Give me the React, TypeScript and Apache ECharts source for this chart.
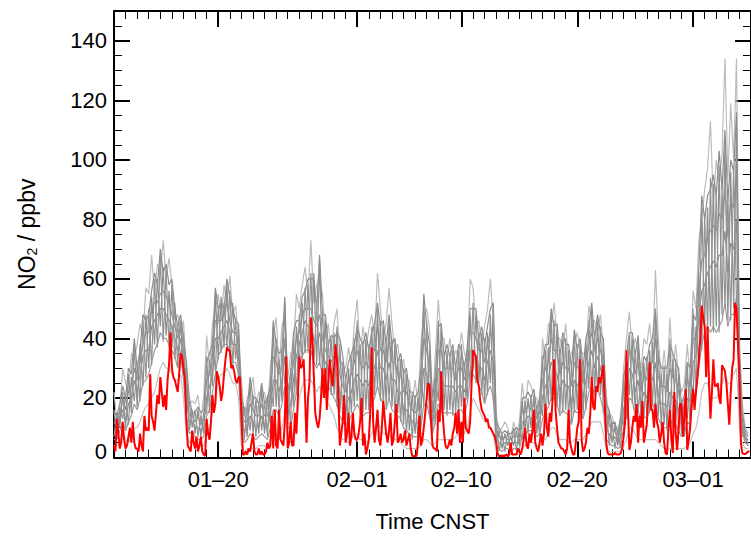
import { useEffect, useRef } from "react";
import * as echarts from "echarts";

// Time axis: days since 2020-01-11 00:00 CNST
const X_MIN_DAY = 0;
const X_MAX_DAY = 55;
const majorTickDays = [9, 21, 30, 40, 50];
const majorTickLabels = ["01–20", "02–01", "02–10", "02–20", "03–01"];
const minorTickDays = Array.from({ length: 54 }, (_, i) => i + 1).filter((d) => !majorTickDays.includes(d));
const yMajorTicks = [0, 20, 40, 60, 80, 100, 120, 140];
const yMinorTicks = [5, 10, 15, 25, 30, 35, 45, 50, 55, 65, 70, 75, 85, 90, 95, 105, 110, 115, 125, 130, 135, 145];

// Observed (red), 3-hourly
const RED_STEP_H = 3;
const red = [
  4, 2, 13, 8, 3, 5, 12, 6,
  3, 4, 7, 10, 5, 12, 5, 3,
  3, 2, 8, 4, 2, 14, 9, 10,
  9, 28, 14, 12, 9, 15, 21, 18,
  27, 22, 17, 21, 16, 26, 31, 42,
  30, 27, 26, 24, 22, 28, 35, 34,
  30, 26, 12, 4, 3, 2, 9, 5,
  3, 7, 2, 4, 7, 2, 1, 0.5,
  13, 8, 6, 12, 21, 15, 18, 29,
  27, 24, 19, 22, 28, 33, 37, 36,
  36, 30, 31, 29, 26, 25, 27, 27,
  15, 1, 1, 2, 1, 3, 2, 5,
  8, 2, 1, 1, 3, 1, 2, 1,
  1, 2, 5, 3, 4, 14, 3, 16,
  4, 3, 16, 6, 5, 4, 12, 34,
  3, 5, 12, 4, 4, 15, 8, 20,
  34, 30, 31, 33, 20, 5, 20, 25,
  47, 40, 28, 15, 12, 10, 13, 20,
  30, 20, 30, 16, 25, 33, 28, 24,
  30, 38, 33, 20, 4, 8, 12, 21,
  5, 8, 15, 4, 7, 15, 8, 6,
  6, 8, 12, 20, 4, 8, 1, 3,
  6, 15, 37, 12, 5, 10, 16, 6,
  4, 10, 19, 13, 8, 5, 9, 15,
  4, 6, 12, 18, 5, 6, 8, 5,
  6, 9, 4, 6, 8, 3, 0.5, 0.5,
  0.5, 0.5, 5, 14, 4, 6, 10, 15,
  20, 25, 24, 12, 4, 3, 3, 2,
  16, 12, 29, 15, 8, 4, 3, 4,
  6, 4, 8, 10, 15, 8, 16, 5,
  12, 5, 20, 10, 9, 8, 12, 25,
  36, 35, 34, 26, 24, 19, 16, 15,
  14, 12, 13, 10, 10, 9, 8, 7,
  5, 1, 0.5, 0.5, 0.5, 0.5, 0.5, 1,
  0.5, 1, 5, 1, 1, 1, 1, 3,
  2, 1, 3, 6, 10, 4, 3, 8,
  5, 9, 16, 5, 3, 2, 5, 8,
  4, 8, 18, 10, 7, 15, 12, 20,
  33, 16, 10, 5, 4, 3, 3, 2,
  1, 3, 16, 5, 3, 1, 1, 5,
  10, 12, 33, 6, 2, 3, 5, 10,
  8, 15, 27, 17, 16, 24, 22, 27,
  25, 28, 31, 18, 5, 1.5, 1, 1,
  1, 1, 1.5, 1, 1, 1, 1.5, 3,
  7, 12, 36, 16, 2.5, 5, 10, 14,
  12, 18, 5, 14, 10, 19, 5, 8,
  11, 20, 32, 16, 16, 10, 18, 12,
  10, 5, 8, 12, 5, 1.5, 1, 10,
  16, 6, 1.5, 22, 8, 2.5, 10, 18,
  18, 7, 14, 23, 2.5, 6, 10, 18,
  23, 16, 22, 27, 33, 40, 51, 47,
  44, 27, 44, 25, 13, 22, 33, 24,
  24, 25, 20, 18, 31, 30, 29, 25,
  18, 11, 22, 30, 33, 52, 50, 38,
  27, 5, 1.5, 1.2, 1.2, 1.5, 2, 2,
];

// Model ensemble members (grey), 6-hourly
const GRAY_STEP_H = 6;
const memberA = [
  22, 12, 16, 30, 25, 22, 35, 33, 38, 45, 40, 57, 55, 68, 55, 65, 62, 73, 60, 67,
  58, 46, 48, 42, 46, 28, 18, 19, 18, 21, 12, 21, 41, 30, 45, 50, 55, 46, 58, 52,
  61, 48, 51, 40, 26, 14, 20, 22, 27, 18, 22, 20, 22, 16, 30, 40, 47, 30, 44, 48,
  26, 35, 36, 55, 50, 58, 64, 54, 73, 52, 58, 60, 55, 40, 45, 36, 45, 50, 34, 30,
  30, 37, 30, 45, 53, 34, 44, 36, 43, 48, 40, 62, 50, 40, 45, 57, 45, 36, 38, 30,
  33, 26, 26, 18, 26, 18, 38, 48, 50, 43, 18, 35, 53, 40, 40, 32, 40, 32, 36, 34,
  42, 35, 32, 60, 57, 44, 46, 38, 44, 50, 60, 45, 15, 8, 10, 12, 10, 6, 12, 8,
  12, 25, 16, 26, 24, 20, 20, 16, 40, 32, 45, 44, 52, 40, 40, 36, 45, 32, 35, 38,
  42, 36, 35, 34, 51, 46, 46, 42, 48, 36, 21, 14, 14, 10, 10, 12, 30, 40, 49, 36,
  40, 35, 30, 40, 38, 45, 34, 63, 40, 26, 36, 26, 47, 30, 38, 26, 22, 25, 38, 26,
  56, 50, 73, 80, 90, 97, 113, 85, 100, 92, 102, 134, 94, 119, 100, 134, 40, 18, 10, 8,
];
const memberB = [
  15, 14, 18, 24, 20, 30, 28, 40, 30, 36, 48, 46, 48, 56, 62, 58, 70, 62, 65, 58,
  60, 50, 44, 48, 40, 32, 20, 15, 15, 17, 15, 16, 32, 35, 38, 57, 50, 52, 50, 60,
  54, 50, 46, 45, 20, 16, 16, 27, 20, 20, 18, 25, 18, 20, 24, 46, 38, 35, 36, 54,
  22, 28, 42, 46, 46, 54, 56, 60, 60, 60, 50, 68, 48, 48, 38, 41, 40, 42, 40, 34,
  26, 32, 35, 38, 44, 40, 38, 42, 36, 42, 45, 52, 44, 46, 38, 48, 38, 40, 32, 35,
  28, 30, 22, 22, 20, 22, 30, 55, 44, 38, 20, 28, 44, 45, 34, 38, 34, 38, 30, 38,
  36, 30, 37, 50, 50, 50, 40, 44, 38, 44, 50, 52, 12, 10, 8, 9, 8, 8, 9, 10,
  9, 20, 20, 22, 20, 23, 16, 20, 32, 38, 38, 50, 44, 45, 34, 42, 38, 38, 30, 43,
  36, 40, 30, 40, 44, 52, 40, 48, 42, 40, 18, 16, 11, 12, 8, 14, 26, 34, 42, 42,
  34, 41, 26, 34, 32, 38, 40, 50, 34, 30, 30, 30, 38, 35, 32, 30, 18, 21, 32, 30,
  48, 46, 64, 88, 80, 88, 90, 95, 88, 103, 90, 110, 86, 100, 96, 116, 35, 15, 9, 7,
];
const memberC = [
  12, 10, 12, 20, 16, 22, 24, 30, 26, 32, 38, 42, 42, 50, 52, 52, 55, 56, 54, 52,
  48, 44, 40, 44, 36, 24, 14, 14, 12, 14, 11, 13, 26, 28, 34, 46, 46, 46, 48, 52,
  46, 42, 42, 38, 15, 12, 12, 18, 16, 14, 14, 18, 14, 14, 20, 34, 32, 28, 30, 40,
  18, 24, 32, 40, 42, 48, 50, 50, 50, 46, 44, 48, 40, 36, 34, 32, 34, 34, 28, 24,
  22, 26, 28, 32, 36, 32, 30, 32, 30, 36, 36, 44, 36, 36, 32, 40, 32, 32, 28, 28,
  22, 22, 18, 16, 15, 16, 24, 40, 36, 30, 15, 22, 36, 36, 30, 30, 30, 30, 26, 30,
  30, 26, 30, 42, 42, 40, 36, 36, 32, 38, 42, 40, 9, 7, 6, 7, 6, 6, 7, 7,
  7, 16, 15, 18, 16, 18, 13, 15, 26, 30, 32, 40, 36, 36, 28, 32, 30, 30, 24, 32,
  30, 32, 25, 32, 38, 42, 36, 40, 36, 32, 14, 11, 9, 9, 6, 10, 22, 28, 36, 34,
  28, 32, 22, 28, 26, 32, 32, 40, 27, 24, 24, 22, 30, 27, 26, 22, 14, 17, 26, 24,
  40, 40, 56, 66, 68, 74, 76, 78, 76, 82, 80, 90, 74, 86, 84, 96, 28, 12, 7, 6,
];
const memberD = [
  9, 8, 14, 16, 12, 18, 20, 26, 22, 28, 34, 36, 36, 44, 46, 48, 50, 50, 48, 46,
  44, 40, 36, 40, 32, 20, 12, 12, 10, 10, 9, 10, 20, 24, 28, 40, 40, 42, 44, 46,
  42, 38, 38, 34, 12, 9, 10, 14, 12, 10, 11, 14, 10, 10, 15, 26, 26, 22, 26, 34,
  14, 18, 26, 34, 38, 42, 46, 44, 44, 40, 38, 42, 34, 32, 30, 28, 28, 28, 22, 20,
  16, 20, 22, 26, 28, 26, 24, 26, 24, 30, 30, 36, 30, 30, 26, 32, 26, 26, 22, 22,
  16, 16, 14, 12, 11, 12, 18, 30, 28, 24, 12, 18, 30, 28, 24, 24, 24, 24, 22, 24,
  24, 22, 26, 36, 36, 34, 30, 30, 26, 32, 36, 32, 6, 5, 4, 5, 5, 4, 5, 5,
  5, 12, 12, 14, 13, 14, 10, 12, 20, 24, 26, 32, 30, 28, 22, 26, 24, 24, 18, 26,
  24, 26, 20, 26, 32, 36, 30, 34, 30, 26, 10, 8, 6, 7, 5, 7, 16, 22, 30, 28,
  22, 26, 18, 22, 20, 26, 26, 32, 21, 18, 18, 17, 22, 20, 19, 16, 11, 13, 20, 19,
  32, 34, 48, 56, 58, 62, 64, 66, 64, 68, 68, 76, 62, 72, 70, 80, 22, 10, 6, 5,
];
const memberE = [
  6, 6, 9, 12, 9, 12, 14, 18, 16, 20, 25, 26, 28, 32, 36, 38, 42, 40, 40, 38,
  36, 34, 30, 34, 26, 14, 8, 9, 7, 6, 6, 7, 14, 16, 22, 28, 34, 36, 38, 38,
  36, 32, 32, 28, 8, 5, 6, 8, 7, 6, 7, 8, 7, 6, 10, 16, 16, 14, 18, 24,
  10, 10, 16, 22, 30, 34, 36, 36, 36, 32, 30, 32, 28, 26, 24, 22, 20, 18, 14, 12,
  11, 12, 14, 16, 18, 16, 14, 15, 15, 18, 20, 24, 20, 18, 16, 20, 16, 15, 14, 13,
  10, 9, 8, 7, 7, 7, 10, 18, 18, 14, 8, 12, 18, 16, 15, 15, 15, 15, 14, 16,
  16, 14, 18, 26, 28, 26, 24, 22, 18, 22, 24, 20, 4, 3, 2, 3, 3, 2, 3, 3,
  3, 7, 8, 9, 9, 9, 7, 8, 13, 15, 17, 20, 20, 18, 14, 16, 15, 14, 11, 16,
  15, 16, 13, 17, 22, 24, 21, 23, 20, 16, 6, 5, 4, 4, 3, 4, 10, 14, 20, 19,
  14, 16, 12, 14, 13, 16, 16, 19, 13, 11, 10, 10, 13, 11, 11, 9, 7, 8, 12, 11,
  20, 22, 30, 38, 42, 44, 42, 44, 42, 44, 46, 52, 44, 48, 48, 54, 16, 8, 5, 4,
];
const memberF = [
  4, 4, 5, 8, 6, 5, 7, 10, 10, 12, 15, 17, 18, 20, 22, 26, 30, 32, 30, 30,
  28, 26, 26, 28, 20, 8, 5, 6, 4, 3, 4, 4, 8, 10, 15, 18, 26, 28, 28, 30,
  28, 25, 25, 20, 4, 2, 3, 3, 3, 3, 4, 4, 4, 3, 6, 8, 8, 6, 10, 15,
  6, 5, 8, 12, 20, 24, 26, 26, 26, 24, 22, 24, 22, 20, 18, 16, 14, 10, 8, 6,
  6, 5, 6, 8, 8, 6, 6, 5, 6, 8, 10, 12, 10, 8, 8, 8, 6, 6, 6, 5,
  4, 3, 3, 3, 3, 3, 4, 6, 6, 5, 4, 5, 6, 6, 6, 6, 6, 6, 7, 8,
  8, 8, 10, 15, 20, 18, 16, 14, 12, 12, 10, 8, 2, 1, 1, 1, 1, 1, 1, 1,
  1, 3, 4, 5, 5, 5, 4, 4, 6, 6, 8, 10, 10, 8, 6, 6, 6, 5, 5, 6,
  6, 6, 6, 8, 10, 12, 12, 12, 12, 8, 3, 2, 2, 2, 2, 2, 4, 6, 10, 10,
  8, 6, 6, 6, 6, 6, 6, 6, 5, 4, 3, 3, 3, 3, 3, 3, 3, 3, 4, 5,
  8, 10, 15, 22, 25, 25, 20, 20, 20, 22, 25, 28, 25, 25, 28, 30, 10, 5, 3, 3,
];
const memberG = [
  7, 15, 10, 22, 10, 28, 15, 38, 17, 38, 24, 48, 30, 54, 38, 60, 44, 64, 41, 56,
  37, 52, 31, 46, 28, 30, 9, 16, 8, 16, 7, 15, 15, 33, 24, 55, 33, 54, 37, 58,
  35, 52, 33, 43, 9, 17, 7, 25, 8, 19, 8, 23, 8, 21, 11, 44, 17, 33, 19, 52,
  11, 30, 17, 44, 31, 52, 35, 58, 37, 62, 31, 66, 27, 46, 25, 40, 21, 44, 15, 32,
  12, 30, 15, 40, 19, 38, 15, 40, 16, 44, 21, 50, 19, 44, 17, 46, 17, 38, 15, 33,
  11, 28, 9, 21, 8, 20, 11, 52, 19, 36, 9, 27, 19, 43, 16, 36, 16, 36, 15, 36,
  17, 32, 19, 48, 29, 48, 25, 42, 19, 42, 25, 50, 5, 9, 3, 8, 4, 7, 4, 9,
  4, 19, 9, 20, 10, 21, 8, 19, 14, 36, 18, 48, 21, 43, 15, 40, 16, 36, 12, 41,
  16, 38, 14, 38, 23, 50, 22, 46, 21, 38, 7, 15, 5, 11, 4, 13, 11, 32, 21, 40,
  15, 39, 13, 32, 14, 36, 17, 48, 14, 28, 11, 28, 14, 33, 12, 28, 8, 20, 13, 28,
  21, 44, 32, 84, 44, 84, 44, 92, 44, 98, 48, 106, 46, 96, 50, 112, 17, 13, 6, 6,
];
const memberH = [
  16, 7, 17, 13, 21, 11, 27, 19, 31, 19, 46, 27, 50, 31, 60, 37, 68, 39, 63, 37,
  58, 33, 45, 33, 42, 15, 19, 10, 16, 7, 14, 8, 34, 15, 40, 29, 51, 35, 52, 37,
  56, 31, 47, 27, 22, 6, 17, 9, 21, 7, 19, 9, 19, 7, 25, 17, 40, 15, 37, 25,
  24, 11, 40, 21, 48, 33, 57, 35, 62, 31, 51, 31, 50, 25, 39, 21, 42, 17, 38, 13,
  27, 11, 34, 17, 46, 15, 39, 16, 38, 17, 44, 23, 46, 17, 39, 19, 40, 14, 33, 12,
  30, 8, 23, 6, 21, 6, 29, 17, 46, 13, 19, 11, 46, 15, 35, 14, 35, 14, 31, 15,
  38, 13, 36, 25, 52, 25, 42, 21, 40, 21, 48, 19, 13, 2, 8, 2, 9, 2, 10, 2,
  10, 6, 19, 8, 21, 8, 17, 7, 34, 14, 37, 19, 46, 17, 35, 15, 40, 13, 31, 15,
  38, 15, 31, 16, 46, 23, 41, 22, 44, 15, 19, 4, 12, 3, 9, 3, 28, 13, 41, 18,
  36, 15, 27, 13, 34, 15, 39, 18, 36, 10, 31, 9, 40, 10, 33, 8, 19, 7, 31, 10,
  50, 21, 62, 36, 82, 42, 94, 42, 90, 42, 92, 50, 88, 46, 98, 52, 33, 7, 8, 4,
];
const grayMembers = [memberA, memberB, memberC, memberD, memberE, memberF, memberG, memberH];
const grayColors = ["#bcbcbc", "#8c8c8c", "#909090", "#8c8c8c", "#9c9c9c", "#c2c2c2", "#8e8e8e", "#939393"];

const FONT = "'Liberation Sans', Arial, Helvetica, sans-serif";

function toPairs(values: number[], stepHours: number) {
  return values.map((v, i) => [(i * stepHours) / 24, v]);
}

export default function App() {
  const ref = useRef<HTMLDivElement>(null);

  useEffect(() => {
    if (!ref.current) return;
    const chart = echarts.init(ref.current, undefined, { renderer: "svg" });

    const axisLine = { show: true, onZero: false, lineStyle: { color: "#000", width: 2 } };
    const noLine = { show: false, onZero: false };
    const majorTick = (vals: number[]) => ({
      show: true, inside: true, length: 16, customValues: vals, lineStyle: { color: "#000", width: 2 },
    });
    const minorTick = (vals: number[]) => ({
      show: true, inside: true, length: 8, customValues: vals, lineStyle: { color: "#000", width: 1 },
    });
    const xBase = { type: "value", min: X_MIN_DAY, max: X_MAX_DAY, splitLine: { show: false } };
    const yBase = { type: "value", min: 0, max: 150, splitLine: { show: false } };
    const labelStyle = { color: "#000", fontSize: 22, fontFamily: FONT };

    const option: any = {
      animation: false,
      backgroundColor: "#fff",
      grid: { left: 114, right: -5, top: 11, bottom: 82.5, containLabel: false },
      xAxis: [
        {
          ...xBase, position: "bottom", axisLine, axisTick: majorTick(majorTickDays),
          axisLabel: {
            ...labelStyle, show: true, margin: 11, customValues: majorTickDays,
            formatter: (v: number) => majorTickLabels[majorTickDays.indexOf(Math.round(v))] ?? "",
          },
          name: "Time CNST", nameLocation: "middle", nameGap: 53,
          nameTextStyle: { ...labelStyle },
        },
        { ...xBase, position: "bottom", axisLine: noLine, axisTick: minorTick(minorTickDays), axisLabel: { show: false } },
        { ...xBase, position: "top", axisLine, axisTick: majorTick(majorTickDays), axisLabel: { show: false } },
        { ...xBase, position: "top", axisLine: noLine, axisTick: minorTick(minorTickDays), axisLabel: { show: false } },
      ],
      yAxis: [
        {
          ...yBase, position: "left", axisLine, axisTick: majorTick(yMajorTicks),
          axisLabel: {
            ...labelStyle, show: true, margin: 7, customValues: yMajorTicks,
            formatter: (v: number) => (v === 0 ? "{zero|0}" : String(v)),
            rich: { zero: { ...labelStyle, padding: [0, 0, 12, 0] } },
          },
          name: "NO{sub|2} / ppbv", nameLocation: "middle", nameGap: 75, nameRotate: 90,
          nameTextStyle: { ...labelStyle, fontSize: 23, rich: { sub: { ...labelStyle, fontSize: 14, padding: [11, 0, 0, 0] } } },
        },
        { ...yBase, position: "left", axisLine: noLine, axisTick: minorTick(yMinorTicks), axisLabel: { show: false } },
        { ...yBase, position: "right", axisLine, axisTick: majorTick(yMajorTicks), axisLabel: { show: false } },
        { ...yBase, position: "right", axisLine: noLine, axisTick: minorTick(yMinorTicks), axisLabel: { show: false } },
      ],
      series: [
        ...grayMembers.map((m, k) => ({
          type: "line", xAxisIndex: 0, yAxisIndex: 0, data: toPairs(m, GRAY_STEP_H),
          showSymbol: false, symbol: "none", lineStyle: { color: grayColors[k], width: 1.2 }, z: 2,
        })),
        {
          type: "line", xAxisIndex: 0, yAxisIndex: 0, data: toPairs(red, RED_STEP_H),
          showSymbol: false, symbol: "none", lineStyle: { color: "#ff0000", width: 2 }, z: 3,
        },
      ],
    };
    chart.setOption(option);
    return () => chart.dispose();
  }, []);

  return <div ref={ref} style={{ position: "absolute", left: 0, top: 0, width: 751, height: 540 }} />;
}
